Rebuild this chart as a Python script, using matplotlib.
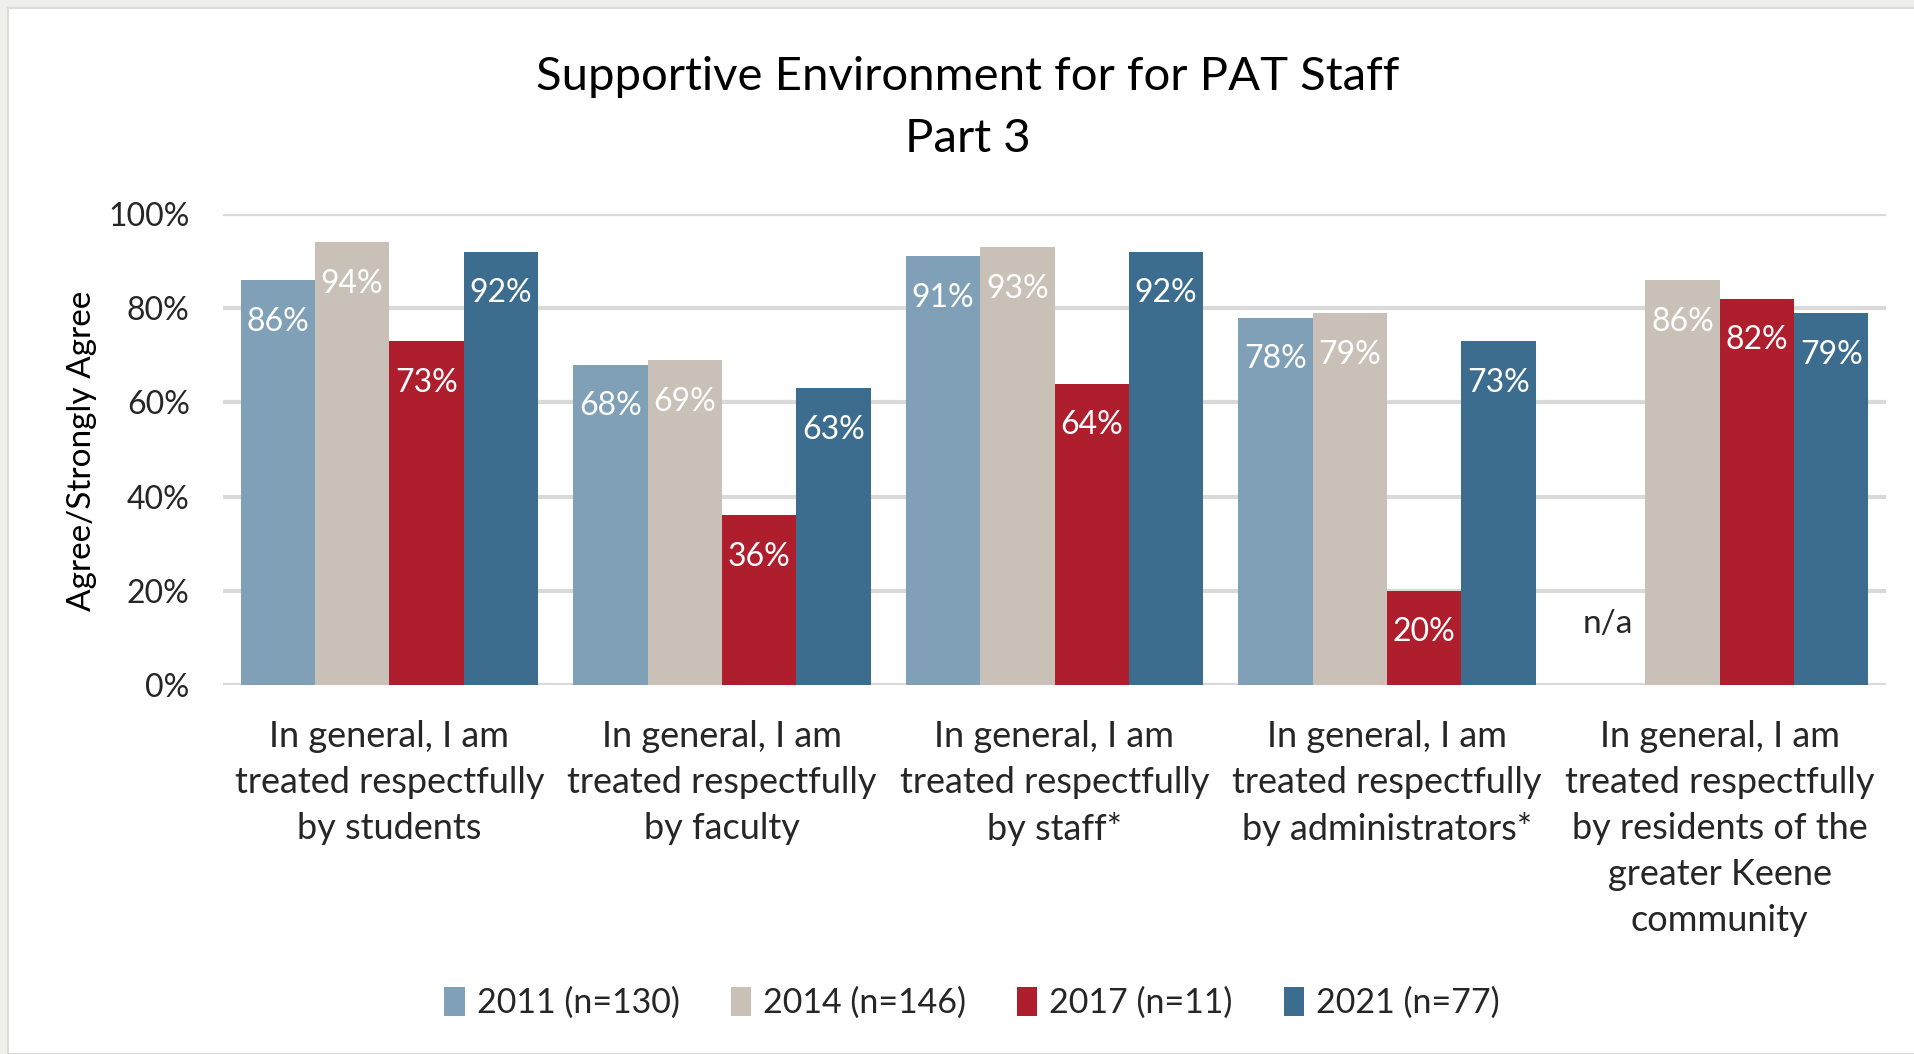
import numpy as np
import matplotlib
matplotlib.use("Agg")
import matplotlib.pyplot as plt
from matplotlib.patches import Rectangle, Patch

plt.rcParams['font.family'] = ['Lato', 'DejaVu Sans']

categories = [
    "In general, I am\ntreated respectfully\nby students",
    "In general, I am\ntreated respectfully\nby faculty",
    "In general, I am\ntreated respectfully\nby staff*",
    "In general, I am\ntreated respectfully\nby administrators*",
    "In general, I am\ntreated respectfully\nby residents of the\ngreater Keene\ncommunity",
]
series = ["2011 (n=130)", "2014 (n=146)", "2017 (n=11)", "2021 (n=77)"]
v2011 = [0.86, 0.68, 0.91, 0.78, np.nan]
v2014 = [0.94, 0.69, 0.93, 0.79, 0.86]
v2017 = [0.73, 0.36, 0.64, 0.20, 0.82]
v2021 = [0.92, 0.63, 0.92, 0.73, 0.79]
values = [v2011, v2014, v2017, v2021]
colors = ["#7fa0b6", "#c9c0b7", "#ae1e2d", "#3c6d8e"]
yticks = [0, 0.2, 0.4, 0.6, 0.8, 1.0]

fig = plt.figure(figsize=(19.14, 10.54), dpi=100)
fig.patch.set_facecolor("#eeeeea")
fig.add_artist(Rectangle((8 / 1914, 0), 1, 1 - 8 / 1054, transform=fig.transFigure,
                         facecolor="white", edgecolor="#dcdcd8", linewidth=1.5, zorder=0))

ax = fig.add_axes([223 / 1914, 1 - 685 / 1054, (1886 - 223) / 1914, (685 - 214) / 1054])
ax.set_facecolor("none")

x = np.arange(len(categories))
w = 0.2236
for i, (vals, col, name) in enumerate(zip(values, colors, series)):
    pos = x + (i - 1.5) * w
    ax.bar(pos, np.nan_to_num(vals), width=w, color=col, label=name, zorder=2)
    for xp, v in zip(pos, vals):
        if np.isnan(v):
            ax.text(xp, 0.13, "n/a", ha="center", va="center", fontsize=24, color="#262626")
        else:
            ax.annotate(f"{v:.0%}", (xp, v), xytext=(0, -30), textcoords="offset points",
                        ha="center", va="center", fontsize=23, color="white", zorder=3)

ax.set_xlim(-0.5, len(categories) - 0.5)
ax.set_ylim(0, 1.0)
ax.set_yticks(yticks)
ax.set_yticklabels([f"{t:.0%}" for t in yticks], fontsize=23, color="#262626")
ax.yaxis.grid(True, color="#d9d9d9", linewidth=3, zorder=0)
ax.set_axisbelow(True)
ax.set_xticks(x)
ax.set_xticklabels(categories, fontsize=26, color="#262626", linespacing=1.48)
ax.tick_params(axis="both", length=0)
ax.tick_params(axis="y", pad=24)
ax.tick_params(axis="x", pad=25)
for s in ax.spines.values():
    s.set_visible(False)

fig.text(82 / 1914, 1 - 451 / 1054, "Agree/Strongly Agree", rotation=90, ha="center", va="center",
         fontsize=24, color="#000000")
fig.text(968 / 1914, 1 - 108 / 1054, "Supportive Environment for for PAT Staff\nPart 3",
         ha="center", va="center", fontsize=34, color="#000000", linespacing=1.59)

handles = [Patch(facecolor=c, label=s) for c, s in zip(colors, series)]
fig.legend(handles=handles, loc="center", bbox_to_anchor=(972 / 1914, 1 - 1003 / 1054), ncol=4,
           frameon=False, fontsize=24.5, handlelength=0.6, handleheight=0.9, handletextpad=0.35,
           columnspacing=1.5, labelcolor="#262626")

fig.savefig("out.png", dpi=100, facecolor=fig.get_facecolor())
